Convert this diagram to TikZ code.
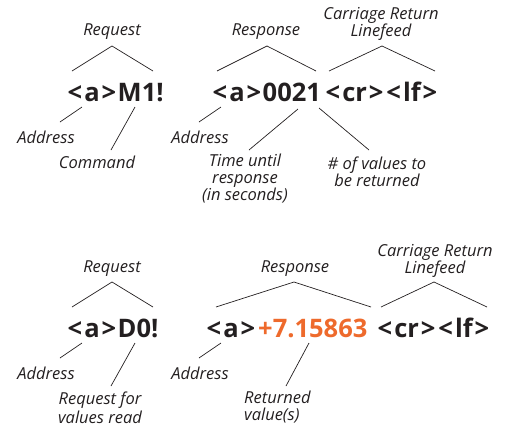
\documentclass[tikz,border=0pt]{standalone}
\usepackage{fontspec}
\setmainfont{Open Sans}
\definecolor{ink}{HTML}{231F20}
\definecolor{orng}{HTML}{EE6A2C}
\newcommand{\lAng}{\kern1.5pt<\kern2pt}
\newcommand{\rAng}{\kern2pt>\kern1.5pt}
\begin{document}
\begin{tikzpicture}[x=1pt,y=-1pt,
  lbl/.style={font=\itshape\fontsize{16.5}{17}\selectfont, text=ink, inner sep=0pt, align=center},
  code/.style={font=\bfseries\fontsize{25.5}{27}\selectfont, text=ink, inner sep=0pt, anchor=base west},
  ln/.style={draw=ink, line width=0.7pt}]
\useasboundingbox (0,0) rectangle (509,429);

% ---------- top row ----------
\node[lbl] (req1) at (112,32) {Request};
\coordinate (req1a) at (112,46);
\coordinate (req1l) at (72,71);
\coordinate (req1r) at (153,71);
\draw[ln] (req1l) -- (req1a) -- (req1r);

\node[code] (cmd1) at (66,101) {\lAng a\rAng M1!};
\coordinate (ad1s) at (82,107);
\coordinate (ad1e) at (60,122);
\draw[ln] (ad1s) -- (ad1e);
\node[lbl] (addr1) at (46,137) {Address};
\coordinate (cm1s) at (135,107);
\coordinate (cm1e) at (111,150);
\draw[ln] (cm1s) -- (cm1e);
\node[lbl] (command) at (97,162) {Command};

\node[lbl] (resp1) at (266,32) {Response};
\coordinate (resp1a) at (267,46);
\coordinate (resp1l) at (217,71);
\coordinate (resp1r) at (316,71);
\draw[ln] (resp1l) -- (resp1a) -- (resp1r);

\node[lbl] (crlf1) at (381,24) {Carriage Return\\Linefeed};
\coordinate (crlf1a) at (382,46);
\coordinate (crlf1l) at (329,71);
\coordinate (crlf1r) at (435,71);
\draw[ln] (crlf1l) -- (crlf1a) -- (crlf1r);

\node[code] (ans1) at (211,101) {\lAng a\rAng 0021};
\node[code] (end1) at (324,101) {\lAng cr\rAng\lAng lf\rAng};

\coordinate (ad2s) at (221,107);
\coordinate (ad2e) at (199,122);
\draw[ln] (ad2s) -- (ad2e);
\node[lbl] (addr2) at (200,137) {Address};
\coordinate (tm1s) at (298,109);
\coordinate (tm1e) at (249,150);
\draw[ln] (tm1s) -- (tm1e);
\node[lbl] (time) at (245,179) {Time until\\response\\(in seconds)};
\coordinate (nv1s) at (319,108);
\coordinate (nv1e) at (369,150);
\draw[ln] (nv1s) -- (nv1e);
\node[lbl] (nvals) at (377,171.5) {\# of values to\\be returned};

% ---------- bottom row ----------
\node[lbl] (req2) at (112,269) {Request};
\coordinate (req2a) at (112,282);
\coordinate (req2l) at (72,307);
\coordinate (req2r) at (153,307);
\draw[ln] (req2l) -- (req2a) -- (req2r);

\node[code] (cmd2) at (66,337) {\lAng a\rAng D0!};
\coordinate (ad3s) at (82,343);
\coordinate (ad3e) at (60,358);
\draw[ln] (ad3s) -- (ad3e);
\node[lbl] (addr3) at (46,373) {Address};
\coordinate (rf1s) at (135,343);
\coordinate (rf1e) at (111,386);
\draw[ln] (rf1s) -- (rf1e);
\node[lbl, font=\itshape\fontsize{16.5}{19.5}\selectfont] (reqfor) at (100,408) {Request for\\values read};

\node[lbl] (resp2) at (295,269) {Response};
\coordinate (resp2a) at (294,282);
\coordinate (resp2l) at (216,307);
\coordinate (resp2r) at (371,307);
\draw[ln] (resp2l) -- (resp2a) -- (resp2r);

\node[lbl] (crlf2) at (435,261) {Carriage Return\\Linefeed};
\coordinate (crlf2a) at (434,282);
\coordinate (crlf2l) at (381,307);
\coordinate (crlf2r) at (487,307);
\draw[ln] (crlf2l) -- (crlf2a) -- (crlf2r);

\node[code] (ans2a) at (205,337) {\lAng a\rAng};
\node[code, text=orng] (ans2v) at (258,337) {+7.15863};
\node[code] (end2) at (376,337) {\lAng cr\rAng\lAng lf\rAng};

\coordinate (ad4s) at (221,343);
\coordinate (ad4e) at (199,358);
\draw[ln] (ad4s) -- (ad4e);
\node[lbl] (addr4) at (200,373) {Address};
\coordinate (rv1s) at (309,343);
\coordinate (rv1e) at (286,386);
\draw[ln] (rv1s) -- (rv1e);
\node[lbl, align=left, anchor=west] (retval) at (244,407) {Returned\\value(s)};
\end{tikzpicture}
\end{document}
